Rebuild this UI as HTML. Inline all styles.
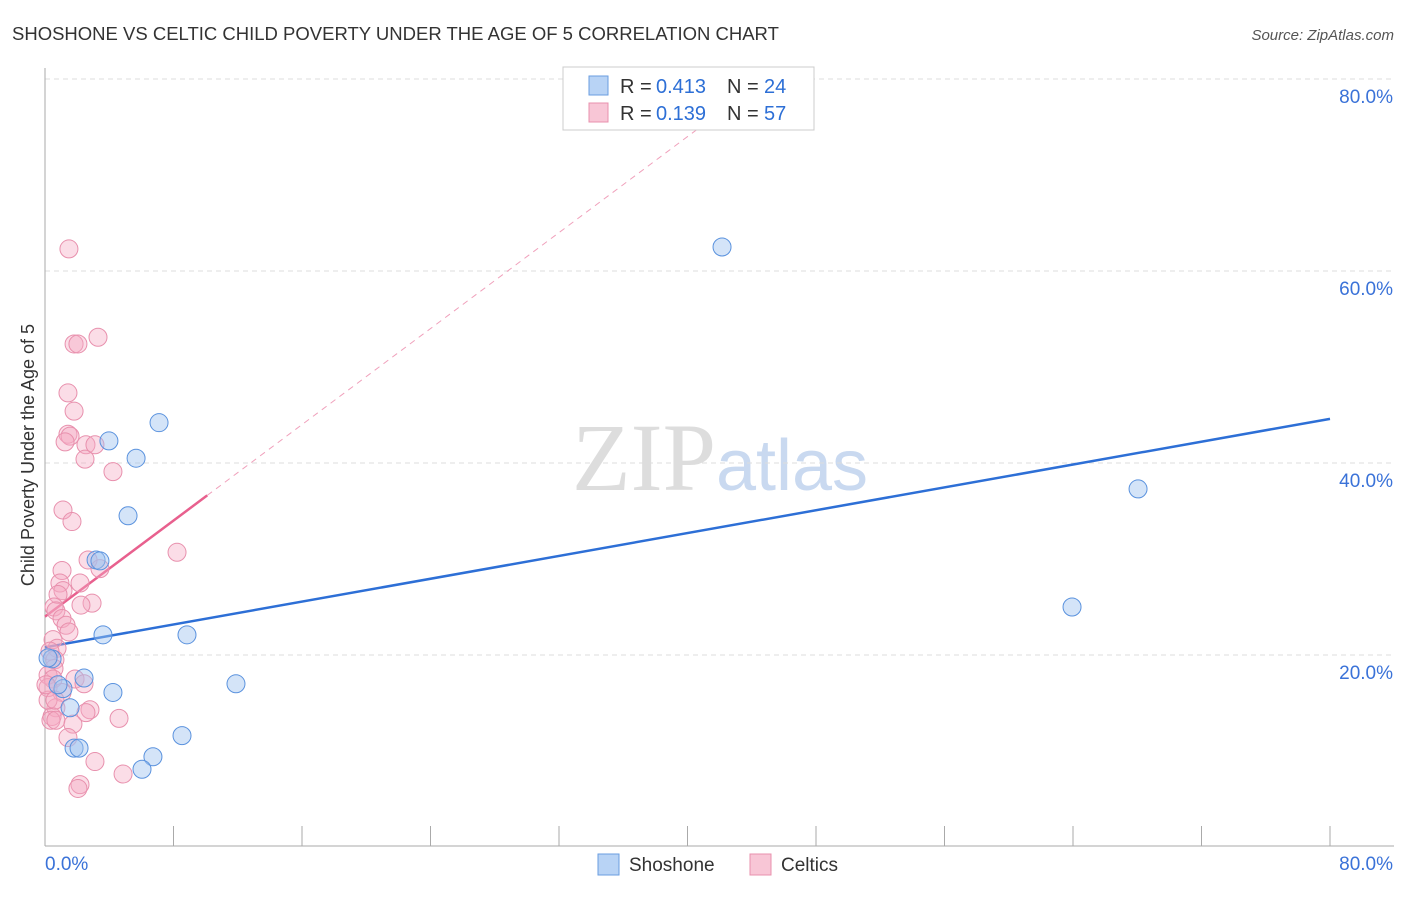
<!DOCTYPE html>
<html><head><meta charset="utf-8"><style>
body{margin:0;background:#fff;font-family:"Liberation Sans",sans-serif;}
</style></head><body>
<svg width="1406" height="892" xmlns="http://www.w3.org/2000/svg">
<text x="12" y="40" font-size="18.5" fill="#333">SHOSHONE VS CELTIC CHILD POVERTY UNDER THE AGE OF 5 CORRELATION CHART</text>
<text x="1394" y="40" font-size="15" fill="#555" font-style="italic" text-anchor="end">Source: ZipAtlas.com</text>
<text x="720" y="490" font-size="96" fill="#ddd" text-anchor="middle" font-family="Liberation Serif,serif">ZIP<tspan fill="#c9d9f0" font-family="Liberation Sans,sans-serif" font-size="72">atlas</tspan></text>
<g id="grid"></g>
<g id="axes"></g>
<g id="lines"></g>
<g id="points"></g>
<text x="34" y="455" font-size="18" fill="#333" text-anchor="middle" transform="rotate(-90 34 455)">Child Poverty Under the Age of 5</text>
<g>
<rect x="563" y="67" width="251" height="63" fill="#fff" stroke="#ccc"/>
<rect x="589" y="76" width="19" height="19" fill="#b8d3f5" stroke="#6a9ee0"/>
<rect x="589" y="103" width="19" height="19" fill="#f8c6d6" stroke="#e890ad"/>
<text x="620" y="93" font-size="20" fill="#333">R = </text><text x="656" y="93" font-size="20" fill="#2d6fd6">0.413</text>
<text x="727" y="93" font-size="20" fill="#333">N = </text><text x="764" y="93" font-size="20" fill="#2d6fd6">24</text>
<text x="620" y="120" font-size="20" fill="#333">R = </text><text x="656" y="120" font-size="20" fill="#2d6fd6">0.139</text>
<text x="727" y="120" font-size="20" fill="#333">N = </text><text x="764" y="120" font-size="20" fill="#2d6fd6">57</text>
</g>
<g>
<rect x="598" y="854" width="21" height="21" fill="#b8d3f5" stroke="#6a9ee0"/>
<text x="629" y="871" font-size="19" fill="#333">Shoshone</text>
<rect x="750" y="854" width="21" height="21" fill="#f8c6d6" stroke="#e890ad"/>
<text x="781" y="871" font-size="19" fill="#333">Celtics</text>
</g>
</svg>
<script>
const yTicks=[20,40,60,80];
const xTickLabels=["0.0%","80.0%"];
const shoX=[42.15,68.05,63.94,7.10,3.98,5.67,5.17,3.18,3.42,3.61,8.84,11.89,4.23,2.43,1.12,0.44,0.19,1.56,1.81,2.12,8.53,6.72,6.04,0.81];
const shoY=[62.5,37.3,25.0,44.2,42.3,40.5,34.5,29.9,29.8,22.1,22.1,17.0,16.1,17.6,16.5,19.6,19.7,14.5,10.3,10.3,11.6,9.4,8.1,16.9];
const celX=[1.49,3.30,1.81,2.05,1.43,1.81,1.43,1.56,1.25,2.55,3.11,2.49,4.23,1.12,1.68,8.22,2.68,1.06,0.93,2.18,3.42,1.12,0.81,2.93,2.24,0.56,0.68,1.06,1.31,1.49,0.50,0.75,0.31,0.62,0.56,0.19,0.50,1.87,2.43,0.19,1.06,0.68,2.80,2.55,4.61,0.44,0.37,0.68,1.74,1.43,3.11,4.86,2.18,2.05,0.19,0.06,0.62];
const celY=[62.3,53.1,52.4,52.4,47.3,45.4,43.0,42.8,42.2,41.9,41.9,40.4,39.1,35.1,33.9,30.7,29.9,28.8,27.5,27.5,29.0,26.7,26.3,25.4,25.2,25.0,24.6,23.8,23.1,22.4,21.6,20.7,20.4,19.5,18.6,17.9,17.5,17.5,17.0,16.6,16.1,14.5,14.3,14.0,13.4,13.6,13.2,13.2,12.8,11.4,8.9,7.6,6.5,6.1,15.3,16.9,15.3];
const shoLine=[20.8,44.6];
const celLine=[24.0,1.25];
const NS="http://www.w3.org/2000/svg";
const X=v=>45+v*1285/80, Y=v=>847-v*9.6;
function mk(t,a,p){const e=document.createElementNS(NS,t);for(const k in a)e.setAttribute(k,a[k]);document.getElementById(p).appendChild(e);return e;}
yTicks.forEach(t=>{
 const l=mk('line',{x1:45,x2:1394,y1:Y(t),y2:Y(t),stroke:'#ddd','stroke-dasharray':'5,4'},'grid');
 
 
 const tx=mk('text',{x:1393,y:Y(t)+24,'font-size':19,fill:'#3a72d8','text-anchor':'end'},'grid');
 tx.textContent=t.toFixed(1)+'%';
 
 
});
mk('line',{x1:45,x2:45,y1:68,y2:846,stroke:'#aaa'},'axes');
mk('line',{x1:45,x2:1394,y1:846,y2:846,stroke:'#aaa'},'axes');
for(let i=1;i<=10;i++){const v=i*8;mk('line',{x1:X(v),x2:X(v),y1:826,y2:846,stroke:'#aaa'},'axes');}
[[0,'start',45],[80,'end',1393]].forEach((d,i)=>{const t=mk('text',{x:d[2],y:870,'font-size':19,fill:'#3a72d8','text-anchor':d[1]},'axes');t.textContent=xTickLabels[i];
 
 });
let b=mk('line',{x1:X(0),y1:Y(shoLine[0]),x2:X(80),y2:Y(shoLine[1]),stroke:'#2d6fd6','stroke-width':2.5},'lines');


const xe=(80-celLine[0])/celLine[1];
let pd=mk('line',{x1:X(10.1),y1:Y(celLine[0]+celLine[1]*10.1),x2:X(xe),y2:Y(80),stroke:'#f0a0bb','stroke-width':1,'stroke-dasharray':'6,5'},'lines');


let p=mk('line',{x1:X(0),y1:Y(celLine[0]),x2:X(10.1),y2:Y(celLine[0]+celLine[1]*10.1),stroke:'#e8608e','stroke-width':2.5},'lines');


celX.forEach((x,i)=>{const c=mk('circle',{cx:X(x),cy:Y(celY[i]),r:9,fill:'rgba(246,170,195,0.4)',stroke:'#e890ad','stroke-width':1},'points');
 
 });
shoX.forEach((x,i)=>{const c=mk('circle',{cx:X(x),cy:Y(shoY[i]),r:9,fill:'rgba(160,195,240,0.45)',stroke:'#5a92de','stroke-width':1},'points');
 
 });
</script>
</body></html>
